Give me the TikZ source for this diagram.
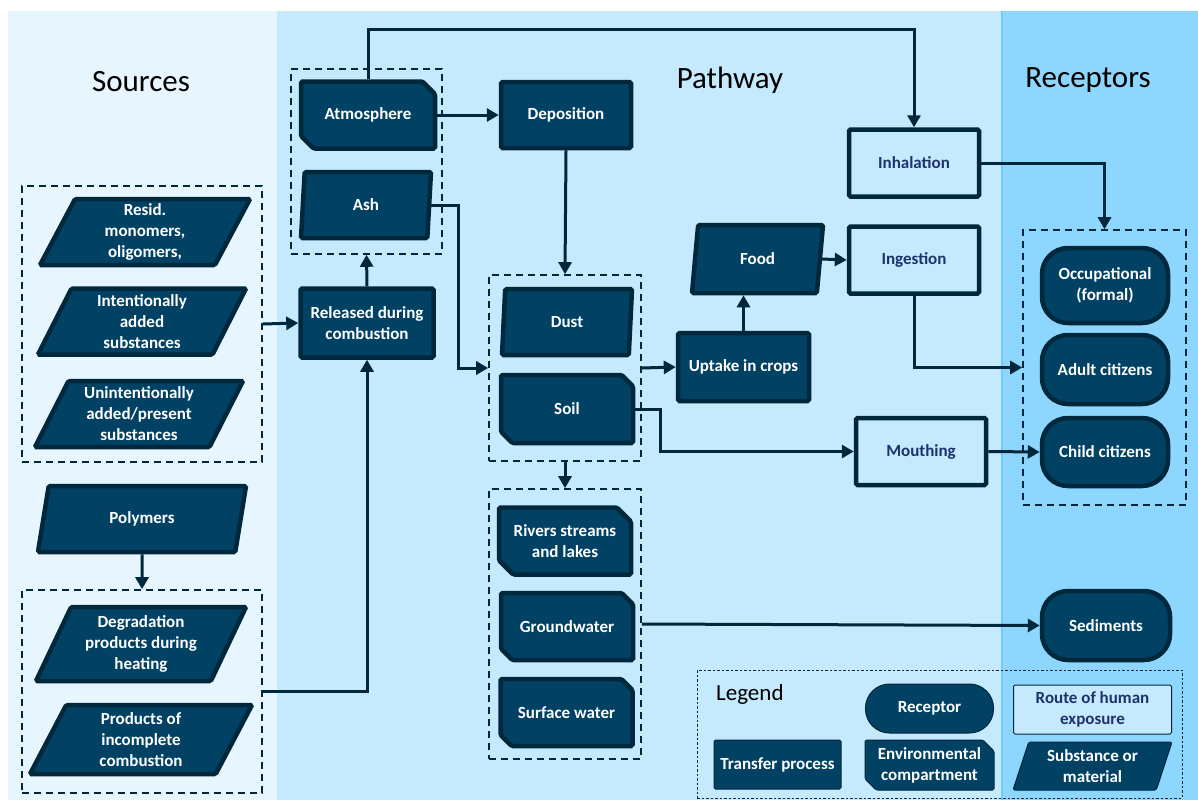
\documentclass[tikz,border=0pt]{standalone}
\usepackage{fontspec}
\setmainfont{Carlito}
\usetikzlibrary{arrows.meta,shapes.geometric,shapes.misc}

\definecolor{boxfill}{RGB}{0,65,100}
\definecolor{boxline}{RGB}{0,40,60}
\definecolor{routetext}{RGB}{30,50,110}
\definecolor{srcbg}{RGB}{230,245,254}
\definecolor{pathbg}{RGB}{197,233,253}
\definecolor{recbg}{RGB}{141,214,253}
\definecolor{recline}{RGB}{115,202,250}

\begin{document}
\begin{tikzpicture}[
  x=1pt, y=-1pt,
  every node/.style={font=\bfseries\fontsize{17}{21}\selectfont, align=center, inner sep=2pt},
  subst/.style={draw=boxline, fill=boxfill, text=white, line width=4.5pt, rounded corners=1.5pt,
    trapezium, trapezium stretches body, minimum height=66},
  envbox/.style={draw=boxline, fill=boxfill, text=white, line width=4.5pt, rounded corners=1.5pt,
    chamfered rectangle, chamfered rectangle corners={north east,south west},
    chamfered rectangle xsep=11pt, minimum width=132, minimum height=67},
  xfer/.style={draw=boxline, fill=boxfill, text=white, line width=4.5pt, rounded corners=1.5pt,
    minimum width=131, minimum height=67},
  route/.style={draw=boxline, fill=pathbg, text=routetext, line width=4.5pt, rounded corners=1.5pt,
    minimum width=130, minimum height=67},
  recep/.style={draw=boxline, fill=boxfill, text=white, line width=4.5pt, rounded corners=26pt,
    minimum width=126, minimum height=69},
  grp/.style={draw=boxline, line width=1.6pt, dash pattern=on 7pt off 5pt},
  title/.style={font=\fontsize{31}{35}\selectfont, text=black},
  flow/.style={draw=boxline, line width=3pt}
]
  \useasboundingbox (0,0) rectangle (1198,803);

  % panels
  \fill[srcbg] (8,11) rectangle (277,800);
  \fill[pathbg] (277,11) rectangle (1001,800);
  \fill[recbg] (1001,11) rectangle (1198,800);
  \draw[recline, line width=2pt] (1002,11) -- (1002,800);

  \node[title] (tsrc) at (141,82) {Sources};
  \node[title] (tpath) at (730,80) {Pathway};
  \node[title] (trec) at (1088,80) {Receptors};

  % groups
  \node[grp, minimum width=240, minimum height=276] (g1) at (142,324) {};
  \node[grp, minimum width=240, minimum height=203] (g2) at (142,691.5) {};
  \node[grp, minimum width=151, minimum height=185] (g3) at (366.5,161.5) {};
  \node[grp, minimum width=152, minimum height=186] (g4) at (565,368) {};
  \node[grp, minimum width=152, minimum height=270] (g6) at (565,624) {};
  \node[grp, minimum width=163, minimum height=275] (g5) at (1104.5,367.5) {};

  % sources
  \node[subst, trapezium left angle=60, trapezium right angle=120, minimum width=210] (res) at (145,232) {Resid.\\monomers,\\oligomers,};
  \node[subst, trapezium left angle=60, trapezium right angle=120, minimum width=208] (int) at (142,321.5) {Intentionally\\added\\substances};
  \node[subst, trapezium left angle=60, trapezium right angle=120, minimum width=208] (unint) at (139,414) {Unintentionally\\added/present\\substances};
  \node[subst, trapezium left angle=60, trapezium right angle=120, minimum width=208] (poly) at (142,519) {Polymers};
  \node[subst, trapezium left angle=60, trapezium right angle=120, minimum width=210, minimum height=74] (degr) at (141,644) {Degradation\\products during\\heating};
  \node[subst, trapezium left angle=58, trapezium right angle=122, minimum width=222, minimum height=69] (prod) at (141,739.5) {Products of\\incomplete\\combustion};

  % pathway
  \node[xfer, minimum width=133, minimum height=69] (rel) at (367,323) {Released during\\combustion};
  \node[envbox, minimum width=134] (atm) at (368,115) {Atmosphere};
  \node[subst, trapezium left angle=77, trapezium right angle=103, minimum width=130] (ash) at (366,205) {Ash};
  \node[xfer, minimum width=130, minimum height=66] (dep) at (566,115) {Deposition};
  \node[subst, trapezium left angle=78, trapezium right angle=102, minimum width=130] (dust) at (567,322) {Dust};
  \node[envbox, minimum height=68] (soil) at (567,409) {Soil};
  \node[xfer, minimum height=68] (upt) at (743.5,367) {Uptake in crops};
  \node[subst, trapezium left angle=69, trapezium right angle=111, minimum width=131, minimum height=68] (food) at (757.5,259) {Food};
  \node[route] (inh) at (914,163) {Inhalation};
  \node[route] (ing) at (914,260) {Ingestion};
  \node[route] (mou) at (921,451.5) {Mouthing};
  \node[envbox] (riv) at (565,541) {Rivers streams\\and lakes};
  \node[envbox] (grw) at (567,626.5) {Groundwater};
  \node[envbox] (sfw) at (566.5,712.5) {Surface water};

  % receptors
  \node[recep, minimum height=75] (occ) at (1105,285.5) {Occupational\\(formal)};
  \node[recep] (adu) at (1105,369.5) {Adult citizens};
  \node[recep, minimum height=68] (chi) at (1105,452) {Child citizens};
  \node[recep, minimum width=128] (sed) at (1106,625.5) {Sediments};

  % legend
  \node[draw=boxline, line width=0.9pt, dash pattern=on 2.5pt off 2pt, minimum width=485, minimum height=128] (leg) at (939.5,734) {};
  \node[font=\fontsize{23}{26}\selectfont, anchor=west] (legt) at (714,694) {Legend};
  \node[recep, line width=1pt, rounded corners=24pt, minimum width=128, minimum height=49] (lrec) at (929.5,708.5) {Receptor};
  \node[route, line width=1pt, fill=pathbg, text=routetext, minimum width=158, minimum height=49] (lrou) at (1092.5,709.5) {Route of human\\exposure};
  \node[xfer, line width=1pt, minimum width=127, minimum height=49] (ltra) at (777.5,764.5) {Transfer process};
  \node[envbox, line width=1pt, chamfered rectangle xsep=8pt, minimum width=129, minimum height=50] (lenv) at (929.5,765) {Environmental\\compartment};
  \node[subst, line width=1pt, trapezium left angle=67, trapezium right angle=113, minimum width=159, minimum height=48] (lsub) at (1092.5,766) {Substance or\\material};

  % source edges
  \draw[flow, -{Triangle[length=12pt,width=13pt]}] (g1.east) -- (rel.west);
  \draw[flow, -{Triangle[length=12pt,width=13pt]}] (poly.south) -- (g2.north);
  \draw[flow, -{Triangle[length=12pt,width=13pt]}] (g2.east) -| (rel.south);
  \draw[flow, -{Triangle[length=12pt,width=13pt]}] (rel.north) -- (g3.south);

  % pathway edges
  \draw[flow, -{Triangle[length=12pt,width=13pt]}] (atm.north) -- ++(0,-50) -| (inh.north);
  \draw[flow, -{Triangle[length=12pt,width=13pt]}] (atm.east) -- (dep.west);
  \draw[flow, -{Triangle[length=12pt,width=13pt]}] (dep.south) -- (g4.north);
  \draw[flow, -{Triangle[length=12pt,width=13pt]}] (ash.east) -- ++(27,0) |- (g4.west);
  \draw[flow, -{Triangle[length=12pt,width=13pt]}] (g4.east) -- (upt.west);
  \draw[flow, -{Triangle[length=12pt,width=13pt]}] (upt.north) -- (upt.north |- food.south);
  \draw[flow, -{Triangle[length=12pt,width=13pt]}] (food.east) -- (ing.west);
  \draw[flow, -{Triangle[length=12pt,width=13pt]}] (soil.east) -- ++(25,0) |- (mou.west);
  \draw[flow, -{Triangle[length=12pt,width=13pt]}] (g4.south) -- (g6.north);

  % receptor edges
  \draw[flow, -{Triangle[length=12pt,width=13pt]}] (inh.east) -| (g5.north);
  \draw[flow, -{Triangle[length=12pt,width=13pt]}] (ing.south) |- (g5.west);
  \draw[flow, -{Triangle[length=12pt,width=13pt]}] (mou.east) -- (chi.west);
  \draw[flow, -{Triangle[length=12pt,width=13pt]}] (g6.east) -- (sed.west);

\end{tikzpicture}
\end{document}
